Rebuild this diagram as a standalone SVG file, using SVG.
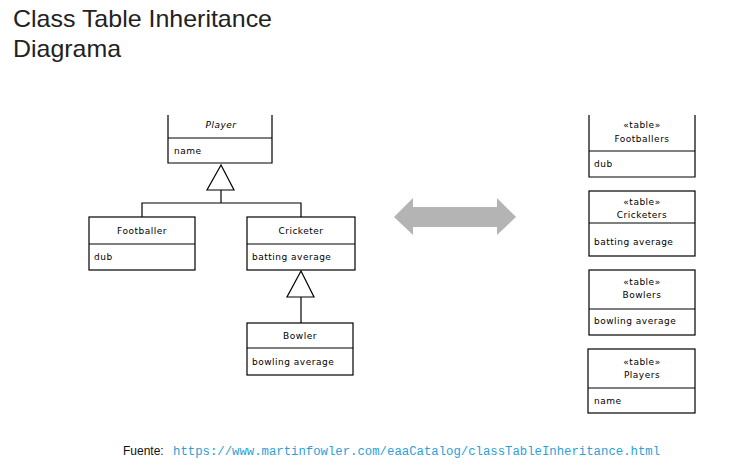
<svg xmlns="http://www.w3.org/2000/svg" width="733" height="472" viewBox="0 0 733 472">
<style>
.box{fill:#fff;stroke:#000;stroke-width:1.2}
.ln{stroke:#000;stroke-width:1.2;fill:none}
.t{font-family:"DejaVu Sans",Verdana,sans-serif;font-size:9px;letter-spacing:0.5px;fill:#000}
.c{text-anchor:middle}
.title{font-family:"Liberation Sans",Arial,sans-serif;font-size:24px;fill:#222}
</style>
<rect width="733" height="472" fill="#fff"/>
<text class="title" x="13" y="27" textLength="259" lengthAdjust="spacingAndGlyphs">Class Table Inheritance</text>
<text class="title" x="13" y="57" textLength="108" lengthAdjust="spacingAndGlyphs">Diagrama</text>

<g id="connectors">
  <polygon class="box" points="221,165 207,190 234,190"/>
  <polyline class="ln" points="221,190 221,203"/>
  <polyline class="ln" points="142,217 142,203 301,203 301,217"/>
  <polygon class="box" points="301,271 287,297 314,297"/>
  <polyline class="ln" points="301,297 301,323"/>
</g>

<g id="player">
  <polyline class="box" points="168,115 168,163 272,163 272,115"/>
  <line class="ln" x1="168" y1="138" x2="272" y2="138"/>
  <text class="t c" x="221" y="128" font-style="italic">Player</text>
  <text class="t" x="174" y="154">name</text>
</g>
<g id="footballer">
  <rect class="box" x="89" y="217" width="106" height="53"/>
  <line class="ln" x1="89" y1="244" x2="195" y2="244"/>
  <text class="t c" x="142" y="234">Footballer</text>
  <text class="t" x="94" y="260">dub</text>
</g>
<g id="cricketer">
  <rect class="box" x="247" y="217" width="108" height="53"/>
  <line class="ln" x1="247" y1="244" x2="355" y2="244"/>
  <text class="t c" x="301" y="234">Cricketer</text>
  <text class="t" x="252" y="260">batting average</text>
</g>
<g id="bowler">
  <rect class="box" x="247" y="323" width="106" height="52"/>
  <line class="ln" x1="247" y1="348" x2="353" y2="348"/>
  <text class="t c" x="300" y="339">Bowler</text>
  <text class="t" x="252" y="365">bowling average</text>
</g>

<g id="arrow">
  <polygon fill="#b4b4b4" points="394,217 413,198 413,207 497,207 497,198 516,217 497,235 497,227 413,227 413,235"/>
</g>

<g id="footballers">
  <polyline class="box" points="589,115 589,177 695,177 695,115"/>
  <line class="ln" x1="589" y1="151" x2="695" y2="151"/>
  <text class="t c" x="642" y="128">«table»</text>
  <text class="t c" x="642" y="142">Footballers</text>
  <text class="t" x="594" y="167">dub</text>
</g>
<g id="cricketers">
  <rect class="box" x="589" y="191" width="106" height="65"/>
  <line class="ln" x1="589" y1="223" x2="695" y2="223"/>
  <text class="t c" x="642" y="205">«table»</text>
  <text class="t c" x="642" y="218">Cricketers</text>
  <text class="t" x="594" y="245">batting average</text>
</g>
<g id="bowlers">
  <rect class="box" x="589" y="270" width="106" height="65"/>
  <line class="ln" x1="589" y1="309" x2="695" y2="309"/>
  <text class="t c" x="642" y="285">«table»</text>
  <text class="t c" x="642" y="298">Bowlers</text>
  <text class="t" x="594" y="324">bowling average</text>
</g>
<g id="players">
  <rect class="box" x="588" y="349" width="107" height="64"/>
  <line class="ln" x1="588" y1="388" x2="695" y2="388"/>
  <text class="t c" x="642" y="365">«table»</text>
  <text class="t c" x="642" y="378">Players</text>
  <text class="t" x="594" y="404">name</text>
</g>

<text x="123" y="455" font-family="Liberation Sans,Arial,sans-serif" font-size="12" fill="#111">Fuente:</text>
<text x="173" y="455" font-family="Liberation Mono,Courier New,monospace" font-size="12.3" fill="#2b9fd8">https://www.martinfowler.com/eaaCatalog/classTableInheritance.html</text>
</svg>
